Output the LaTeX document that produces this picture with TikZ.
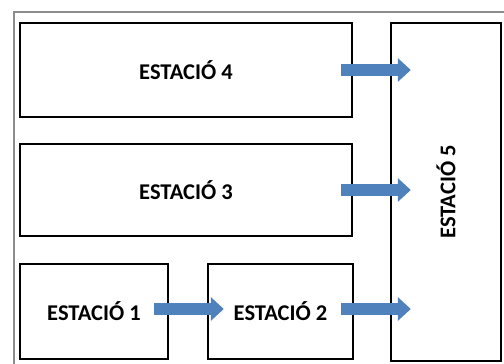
\documentclass[tikz,border=0pt]{standalone}
\usepackage{fontspec}
\setmainfont{Carlito}
\usetikzlibrary{arrows.meta}
\definecolor{flowblue}{HTML}{4F81BD}
\tikzset{
  station/.style={draw=black, line width=2.4pt, fill=white, inner sep=0pt,
    font=\fontsize{22.5}{26}\selectfont\bfseries},
  flow/.style={draw=flowblue, line width=12pt,
    -{Triangle[width=23pt,length=13pt,fill=flowblue]}},
  frame/.style={draw=black!45, line width=1.3pt}
}
\begin{document}
\begin{tikzpicture}[x=1pt,y=-1pt]
  \useasboundingbox (0,0) rectangle (504,364);
  % outer frame (only its left and top edges fall inside the page)
  \coordinate (fbl) at (14,370);
  \coordinate (ftl) at (14,12);
  \coordinate (ftr) at (510,12);
  \draw[frame] (fbl) -- (ftl) -- (ftr);

  % stations
  \node[station, minimum width=332pt, minimum height=94pt] (b4) at (186,70) {ESTACIÓ 4};
  \node[station, minimum width=332pt, minimum height=92pt] (b3) at (186,190) {ESTACIÓ 3};
  \node[station, minimum width=148pt, minimum height=95pt] (b1) at (94,311.5) {ESTACIÓ 1};
  \node[station, minimum width=145pt, minimum height=95pt] (b2) at (280.5,311.5) {ESTACIÓ 2};
  \node[station, minimum width=110pt, minimum height=338pt] (b5) at (446,192)
    {\rotatebox{90}{ESTACIÓ 5}};

  % flow arrows
  \draw[flow] ([xshift=-12pt]b4.east) -- ([xshift=21pt]b4.east -| b5.west);
  \draw[flow] ([xshift=-12pt]b3.east) -- ([xshift=21pt]b3.east -| b5.west);
  \draw[flow] ([xshift=-15pt,yshift=2.5pt]b1.east) -- ([xshift=17pt,yshift=2.5pt]b2.west);
  \draw[flow] ([xshift=-13pt,yshift=2.5pt]b2.east) -- ([xshift=21pt,yshift=2.5pt]b2.east -| b5.west);
\end{tikzpicture}
\end{document}
